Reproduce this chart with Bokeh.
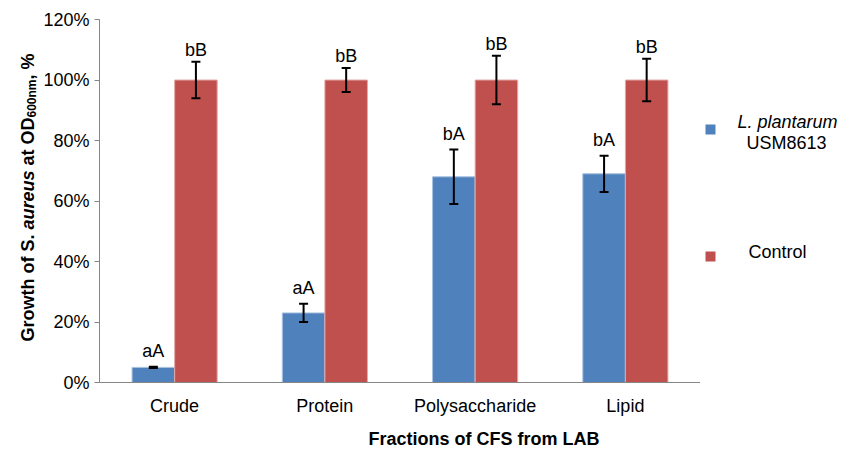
import math
from bokeh.plotting import figure
from bokeh.layouts import row
from bokeh.models import (ColumnDataSource, FactorRange, Range1d, NumeralTickFormatter,
                          FixedTicker, Whisker, TeeHead, Title)
from bokeh.transform import dodge
from bokeh.core.properties import value
from bokeh.embed import file_html
from bokeh.resources import INLINE

# ---- data ----
categories = ["Crude", "Protein", "Polysaccharide", "Lipid"]
lab_values = [0.05, 0.23, 0.68, 0.69]
lab_errors = [0.002, 0.03, 0.09, 0.06]
control_values = [1.00, 1.00, 1.00, 1.00]
control_errors = [0.06, 0.04, 0.08, 0.07]
lab_letters = ["aA", "aA", "bA", "bA"]
control_letters = ["bB", "bB", "bB", "bB"]
y_ticks = [0, 0.2, 0.4, 0.6, 0.8, 1.0, 1.2]
series_names = [("L. plantarum", "USM8613"), ("Control",)]
x_title = "Fractions of CFS from LAB"

FONT = "Liberation Sans"
BLUE = "#4F81BD"
RED = "#C0504D"
W = 0.283
OFF = 0.1417
H = 456
BT, BB = 19, 74          # top / bottom borders shared by all panels
FR_TOP, FR_BOT = BT, H - BB


def side_panel(width, xr):
    f = figure(width=width, height=H, x_range=Range1d(*xr), y_range=Range1d(FR_BOT, FR_TOP),
               output_backend="svg", toolbar_location=None, title=None,
               min_border_left=0, min_border_right=0, min_border_top=BT, min_border_bottom=BB,
               x_axis_location=None, y_axis_location=None)
    f.outline_line_color = None
    f.xgrid.visible = False
    f.ygrid.visible = False
    return f


lab_src = ColumnDataSource(dict(
    cat=categories, val=lab_values,
    upper=[v + e for v, e in zip(lab_values, lab_errors)],
    lower=[v - e for v, e in zip(lab_values, lab_errors)],
    lbl=lab_letters))
ctl_src = ColumnDataSource(dict(
    cat=categories, val=control_values,
    upper=[v + e for v, e in zip(control_values, control_errors)],
    lower=[v - e for v, e in zip(control_values, control_errors)],
    lbl=control_letters))

# ---- main chart ----
p = figure(width=660, height=H, x_range=FactorRange(*categories, range_padding=0),
           y_range=Range1d(0, 1.2), output_backend="svg", toolbar_location=None, title=None,
           min_border_left=59, min_border_right=0, min_border_top=BT, min_border_bottom=BB)
p.outline_line_color = None
p.xgrid.visible = False
p.ygrid.visible = False

p.vbar(x=dodge("cat", -OFF, range=p.x_range), top="val", width=W, source=lab_src,
       fill_color=BLUE, line_color="#A9C1DF", line_width=1)
p.vbar(x=dodge("cat", OFF, range=p.x_range), top="val", width=W, source=ctl_src,
       fill_color=RED, line_color="#E2A9A7", line_width=1)

for src, off in ((lab_src, -OFF), (ctl_src, OFF)):
    wk = Whisker(base=dodge("cat", off, range=p.x_range), upper="upper", lower="lower",
                 source=src, line_color="black", line_width=2, level="overlay",
                 upper_head=TeeHead(size=9, line_color="black", line_width=2),
                 lower_head=TeeHead(size=9, line_color="black", line_width=2))
    p.add_layout(wk)

p.text(x=dodge("cat", -OFF, range=p.x_range), y="upper", text="lbl", source=lab_src,
       y_offset=-16, text_align="center", text_baseline="alphabetic",
       text_font=value(FONT), text_font_size="18px", text_color="black")
p.text(x=dodge("cat", OFF, range=p.x_range), y="upper", text="lbl", source=ctl_src,
       y_offset=-12, text_align="center", text_baseline="alphabetic",
       text_font=value(FONT), text_font_size="18px", text_color="black")

ya = p.yaxis[0]
ya.ticker = FixedTicker(ticks=y_ticks)
ya.formatter = NumeralTickFormatter(format="0%")
ya.axis_line_color = "#868686"
ya.major_tick_line_color = "#868686"
ya.major_tick_out = 5
ya.major_tick_in = 0
ya.minor_tick_line_color = None
ya.major_label_standoff = 5
ya.major_label_text_font = FONT
ya.major_label_text_font_size = "18px"
ya.major_label_text_color = "black"

xa = p.xaxis[0]
xa.axis_line_color = "#868686"
xa.major_tick_line_color = None
xa.minor_tick_line_color = None
xa.major_label_standoff = 7
xa.major_label_text_font = FONT
xa.major_label_text_font_size = "18px"
xa.major_label_text_color = "black"

# x-axis title, placed right of the frame centre as in the reference
xt = Title(text=x_title, align="left", offset=269, standoff=16,
           text_font=FONT, text_font_size="18px", text_font_style="bold",
           text_color="black")
p.add_layout(xt, "below")

# ---- y-axis title (styled pieces, rotated) ----
fy = side_panel(40, (0, 40))
pieces = [
    ("Growth of S.", 0, "bold", "18px", 0),
    ("aureus", 112, "bold italic", "18px", 0),
    ("at OD", 176, "bold", "18px", 0),
    ("600nm", 224, "bold", "12px", 4),
    (", %", 262, "bold", "18px", 0),
]
for txt, d, style, size, shift in pieces:
    fy.text(x=[27 + shift], y=[341 - d], text=[txt], angle=math.pi / 2,
            text_align="left", text_baseline="alphabetic", text_font=value(FONT),
            text_font_style=style, text_font_size=size, text_color="black")

# ---- legend ----
fl = side_panel(151, (700, 851))
fl.quad(left=[705, 705], right=[715, 715], top=[124, 251], bottom=[134, 261],
        fill_color=[BLUE, RED], line_color=None)
fl.text(x=[787], y=[121], text=[series_names[0][0]], text_align="center",
        text_baseline="alphabetic", text_font=value(FONT), text_font_style="italic",
        text_font_size="18px", text_color="black")
fl.text(x=[786, 777], y=[142, 251], text=[series_names[0][1], series_names[1][0]],
        text_align="center", text_baseline="alphabetic", text_font=value(FONT),
        text_font_size="18px", text_color="black")

layout = row(fy, p, fl, spacing=0)
open("out.html", "w").write(file_html(layout, INLINE))
